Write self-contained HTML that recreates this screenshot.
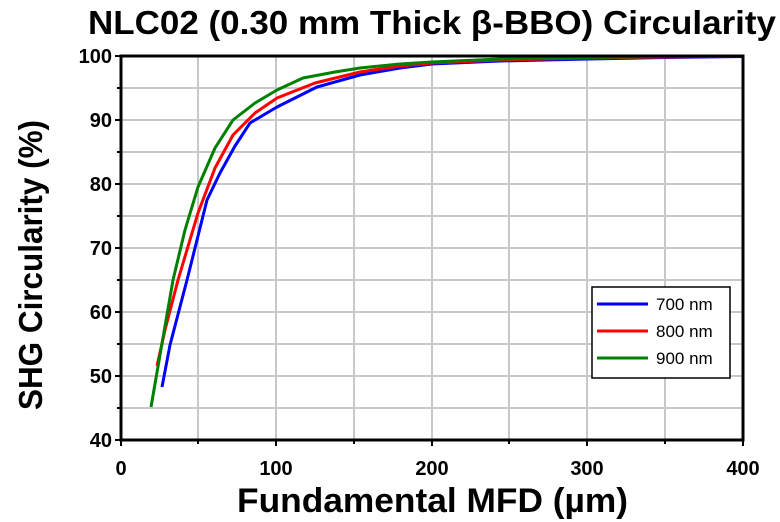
<!DOCTYPE html>
<html><head><meta charset="utf-8"><style>
body{margin:0;background:#fff;}
svg{display:block;font-family:"Liberation Sans",Arial,sans-serif;}
</style></head><body>
<svg width="780" height="522" viewBox="0 0 780 522">
<g stroke="#c8c8c8" stroke-width="2">
<line x1="198" y1="56" x2="198" y2="440"/><line x1="276" y1="56" x2="276" y2="440"/>
<line x1="354" y1="56" x2="354" y2="440"/><line x1="432" y1="56" x2="432" y2="440"/>
<line x1="509" y1="56" x2="509" y2="440"/><line x1="587" y1="56" x2="587" y2="440"/>
<line x1="665" y1="56" x2="665" y2="440"/>
<line x1="121" y1="88" x2="743" y2="88"/><line x1="121" y1="120" x2="743" y2="120"/>
<line x1="121" y1="152" x2="743" y2="152"/><line x1="121" y1="184" x2="743" y2="184"/>
<line x1="121" y1="216" x2="743" y2="216"/><line x1="121" y1="248" x2="743" y2="248"/>
<line x1="121" y1="280" x2="743" y2="280"/><line x1="121" y1="312" x2="743" y2="312"/>
<line x1="121" y1="344" x2="743" y2="344"/><line x1="121" y1="376" x2="743" y2="376"/>
<line x1="121" y1="408" x2="743" y2="408"/>
</g>
<g fill="none" stroke-width="3" stroke-linejoin="round">
<path stroke="#0000ff" d="M162,387 L170,345 L187,280 L207,200 L220,173 L235,146 L250,123 L277,107 L317,87 L360,75 L400,68 L432,64 L500,61 L588,59 L665,57.5 L743,56.5"/>
<path stroke="#ff0000" d="M157,366 L165,330 L178,280 L198,213 L215,168 L233,135 L255,113 L277,98 L315,83 L360,72 L400,66 L432,63 L500,60 L588,58 L665,57 L743,56"/>
<path stroke="#008000" d="M151,407 L160,355 L173,280 L185,230 L198,187 L215,148 L233,120 L255,103 L277,90 L303,78 L335,72 L360,68 L400,64 L432,62 L500,59 L588,57.5 L665,56.5 L743,56"/>
</g>
<g stroke="#000" stroke-width="3" fill="none">
<line x1="121" y1="54.5" x2="121" y2="441.5"/><line x1="119.5" y1="440" x2="744" y2="440"/>
<line x1="119.5" y1="56" x2="744" y2="56"/><line x1="743" y1="54.5" x2="743" y2="441.5"/>
</g>
<g stroke="#000" stroke-width="2">
<line x1="115" y1="56" x2="121" y2="56"/><line x1="115" y1="120" x2="121" y2="120"/><line x1="115" y1="184" x2="121" y2="184"/>
<line x1="115" y1="248" x2="121" y2="248"/><line x1="115" y1="312" x2="121" y2="312"/><line x1="115" y1="376" x2="121" y2="376"/><line x1="115" y1="440" x2="121" y2="440"/>
<line x1="117" y1="88" x2="121" y2="88"/><line x1="117" y1="152" x2="121" y2="152"/><line x1="117" y1="216" x2="121" y2="216"/>
<line x1="117" y1="280" x2="121" y2="280"/><line x1="117" y1="344" x2="121" y2="344"/><line x1="117" y1="408" x2="121" y2="408"/>
<line x1="121" y1="440" x2="121" y2="446"/><line x1="276" y1="440" x2="276" y2="446"/><line x1="432" y1="440" x2="432" y2="446"/>
<line x1="587" y1="440" x2="587" y2="446"/><line x1="743" y1="440" x2="743" y2="446"/>
<line x1="198" y1="440" x2="198" y2="444"/><line x1="354" y1="440" x2="354" y2="444"/><line x1="509" y1="440" x2="509" y2="444"/><line x1="665" y1="440" x2="665" y2="444"/>
</g>
<g font-size="20" font-weight="bold" text-anchor="end" fill="#000">
<text x="112" y="63">100</text><text x="112" y="127">90</text><text x="112" y="191">80</text><text x="112" y="255">70</text>
<text x="112" y="319">60</text><text x="112" y="383">50</text><text x="112" y="447">40</text>
</g>
<g font-size="20" font-weight="bold" text-anchor="middle" fill="#000">
<text x="121" y="475">0</text><text x="276" y="475">100</text><text x="432" y="475">200</text><text x="587" y="475">300</text><text x="743" y="475">400</text>
</g>
<text x="237" y="512" font-size="34" font-weight="bold" textLength="391" lengthAdjust="spacingAndGlyphs">Fundamental MFD (µm)</text>
<text transform="translate(42,410) rotate(-90)" font-size="33" font-weight="bold" textLength="290" lengthAdjust="spacingAndGlyphs">SHG Circularity (%)</text>
<text x="88" y="34" font-size="33" font-weight="bold" textLength="688" lengthAdjust="spacingAndGlyphs">NLC02 (0.30 mm Thick β-BBO) Circularity</text>
<rect x="592" y="287" width="138" height="91" fill="#fff" stroke="#000" stroke-width="1.5"/>
<g stroke-width="3"><line x1="597" y1="304" x2="648" y2="304" stroke="#0000ff"/>
<line x1="597" y1="331" x2="648" y2="331" stroke="#ff0000"/>
<line x1="597" y1="358" x2="648" y2="358" stroke="#008000"/></g>
<g font-size="17"><text x="656" y="310">700 nm</text><text x="656" y="337">800 nm</text><text x="656" y="364">900 nm</text></g>
</svg>
</body></html>
